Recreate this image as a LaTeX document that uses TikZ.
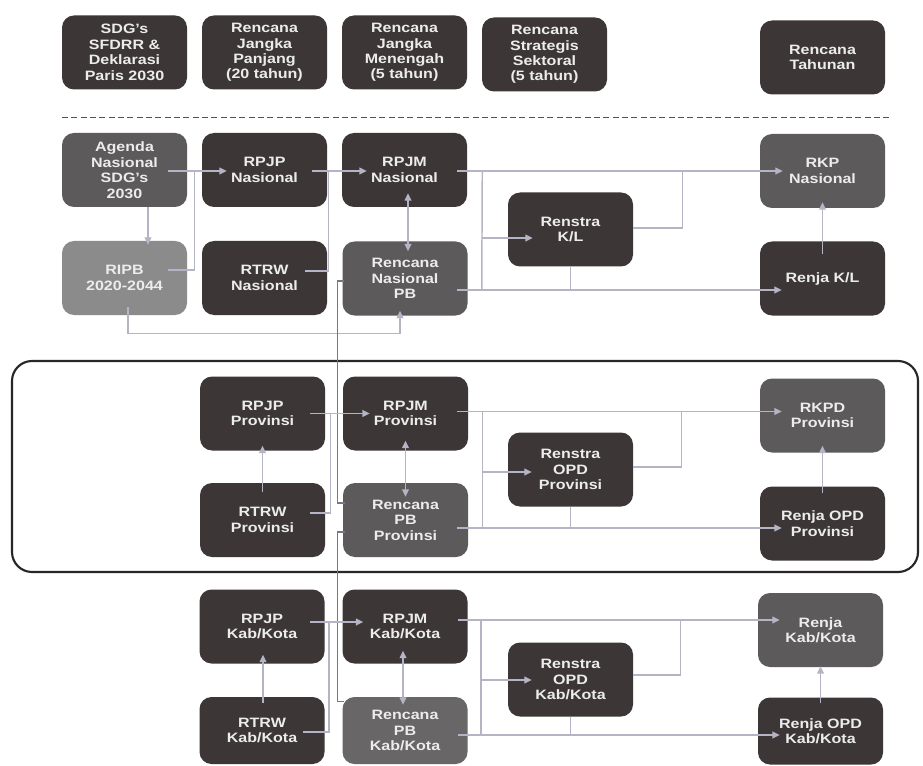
\documentclass[tikz,border=0pt]{standalone}
\usepackage{fontspec}
\setmainfont[FakeStretch=1.18]{Liberation Sans}
\usetikzlibrary{calc,arrows.meta}
\definecolor{boxdark}{RGB}{60,54,55}
\definecolor{boxmid}{RGB}{92,90,91}
\definecolor{boxlight}{RGB}{140,139,140}
\definecolor{boxpb}{RGB}{104,102,103}
\definecolor{txt}{RGB}{236,236,236}
\definecolor{conn}{RGB}{180,180,196}
\definecolor{longconn}{RGB}{120,118,132}
\definecolor{frame}{RGB}{40,38,38}
\begin{document}
\begin{tikzpicture}[x=0.75pt,y=-0.75pt,
  box/.style={rounded corners=9pt, minimum width=93.75pt, minimum height=55.5pt,
    inner sep=0pt, align=center, text=txt,
    font=\bfseries\fontsize{10.2}{11.6}\selectfont},
  dk/.style={box, fill=boxdark},
  md/.style={box, fill=boxmid},
  lt/.style={box, fill=boxlight},
  pbk/.style={box, fill=boxpb},
  shortbox/.style={minimum height=50.25pt},
  ln/.style={draw=conn, line width=1.1pt},
  longln/.style={draw=longconn, line width=0.9pt},
  arr/.style={ln, -{Triangle[length=5.5pt,width=5pt]}},
  dbl/.style={ln, {Triangle[length=5.5pt,width=5pt]}-{Triangle[length=5.5pt,width=5pt]}},
  region/.style={draw=frame, line width=1.6pt, rounded corners=15pt},
  sep/.style={draw=frame!80, line width=0.9pt, dash pattern=on 4.5pt off 2.5pt}
]
\fill[white] (0,0) rectangle (923,766);
\useasboundingbox (0,0) rectangle (923,766);

% header row
\node[dk] (h1) at (124.5,52.5) {SDG's\\SFDRR \&\\Deklarasi\\Paris 2030};
\node[dk] (h2) at (264.5,52.5) {Rencana\\Jangka\\Panjang\\(20 tahun)};
\node[dk] (h3) at (404.5,52.5) {Rencana\\Jangka\\Menengah\\(5 tahun)};
\node[dk] (h4) at (544.5,54.5) {Rencana\\Strategis\\Sektoral\\(5 tahun)};
\node[dk] (h5) at (822.5,57.5) {Rencana\\Tahunan};
\draw[sep] (62,117.5) -- (890,117.5);

% national
\node[md] (agenda) at (124.5,170) {Agenda\\Nasional\\SDG's\\2030};
\node[dk] (rpjpN) at (264.5,170) {RPJP\\Nasional};
\node[dk] (rpjmN) at (404.5,170) {RPJM\\Nasional};
\node[md] (rkpN) at (822.5,171) {RKP\\Nasional};
\node[lt] (ripb) at (124.5,278) {RIPB\\2020-2044};
\node[dk] (rtrwN) at (264.5,278) {RTRW\\Nasional};
\node[md] (pbN) at (405,278.5) {Rencana\\Nasional\\PB};
\node[dk] (renstraN) at (570.5,229.5) {Renstra\\K/L};
\node[dk] (renjaN) at (822.5,278.5) {Renja K/L};

% province
\node[dk] (rpjpP) at (262.5,413.5) {RPJP\\Provinsi};
\node[dk] (rpjmP) at (405.5,413.5) {RPJM\\Provinsi};
\node[md] (rkpdP) at (822.5,415.5) {RKPD\\Provinsi};
\node[dk] (rtrwP) at (262.5,520) {RTRW\\Provinsi};
\node[md] (pbP) at (405.5,520) {Rencana\\PB\\Provinsi};
\node[dk] (renstraP) at (570.5,469.5) {Renstra\\OPD\\Provinsi};
\node[dk] (renjaP) at (822.5,523.5) {Renja OPD\\Provinsi};

% kab/kota
\node[dk] (rpjpK) at (262,626.5) {RPJP\\Kab/Kota};
\node[dk] (rpjmK) at (405,626.5) {RPJM\\Kab/Kota};
\node[md] (renjaKab) at (820.5,630) {Renja\\Kab/Kota};
\node[dk,shortbox] (rtrwK) at (262,730.5) {RTRW\\Kab/Kota};
\node[pbk,shortbox] (pbK) at (405,730.5) {Rencana\\PB\\Kab/Kota};
\node[dk] (renstraK) at (570.5,679.5) {Renstra\\OPD\\Kab/Kota};
\node[dk,shortbox] (renjaK) at (820.5,731) {Renja OPD\\Kab/Kota};

% region frame
\draw[region] (12,361) rectangle (918,572);

% national connectors
\draw[arr] ($(agenda.east)+(-19,1)$) -- ($(rpjpN.west)+(25,1)$);
\draw[ln] ($(ripb.east)+(-19,-8)$) -| ($(agenda.east)+(7,1)$);
\draw[arr] ($(agenda.south)+(23.5,0)$) -- ($(ripb.north)+(23.5,4)$);
\draw[arr] ($(rpjpN.east)+(-15,1)$) -- ($(rpjmN.west)+(25,1)$);
\draw[ln] ($(rtrwN.east)+(-22,-7)$) -| ($(rpjpN.east)+(1,1)$);
\draw[dbl] ($(rpjmN.south)+(3.5,-14)$) -- ($(pbN.north)+(3,10)$);
\draw[arr] ($(ripb.south)+(3.5,-8)$) -- ($(ripb.south)+(3.5,18)$) -| ($(pbN.south)+(-5,-5)$);
\draw[arr] ($(rpjmN.east)+(-10,1)$) -- ($(rkpN.west)+(23,0)$);
\draw[ln] ($(rpjmN.east)+(15,1)$) -- ($(pbN.east)+(14,11.5)$);
\draw[arr] ($(pbN.east)+(-11,11.5)$) -- ($(renjaN.west)+(22,11.5)$);
\draw[arr] ($(renstraN.west)+(-26,8.5)$) -- ($(renstraN.west)+(25,8.5)$);
\draw[ln] ($(renstraN.east)+(0,-1.5)$) -| ($(rkpN.west)+(-77,0)$);
\draw[ln] (renstraN.south) -- ($(renstraN.south)+(0,22.75)$);
\draw[arr] ($(renjaN.north)+(0,13)$) -- ($(rkpN.south)+(0,-6)$);

% long vertical links between levels
\draw[longln] ($(pbN.west)+(2,2.5)$) -- ($(pbN.west)+(-4.5,2.5)$) |- ($(pbP.west)+(2,-17)$);
\draw[longln] ($(pbP.west)+(2,12)$) -- ($(pbP.west)+(-5,12)$) |- ($(pbK.north west)+(2,5)$);

% province connectors
\draw[arr] ($(rpjpP.east)+(-15,0)$) -- ($(rpjmP.west)+(27,0)$);
\draw[arr] ($(rtrwP.north)+(0,9)$) -- ($(rpjpP.south)+(0,-5)$);
\draw[ln] ($(rtrwP.east)+(-15,-7)$) -| ($(rpjpP.east)+(5,0)$);
\draw[dbl] ($(rpjmP.south)+(0,-10)$) -- ($(pbP.north)+(0,14)$);
\draw[arr] ($(rpjmP.east)+(-11,-2)$) -- ($(rkpdP.west)+(22,-4)$);
\draw[ln] ($(rpjmP.east)+(14,-2)$) -- ($(pbP.east)+(14,8)$);
\draw[arr] ($(pbP.east)+(-11,8)$) -- ($(renjaP.west)+(22,4.5)$);
\draw[arr] ($(renstraP.west)+(-26,2.5)$) -- ($(renstraP.west)+(24,2.5)$);
\draw[ln] ($(renstraP.east)+(0,-2.5)$) -| ($(rkpdP.west)+(-78,-4)$);
\draw[ln] (renstraP.south) -- ($(renstraP.south)+(0,21.5)$);
\draw[arr] ($(renjaP.north)+(0,7)$) -- ($(rkpdP.south)+(0,-7)$);

% kab/kota connectors
\draw[arr] ($(rpjpK.east)+(-15,-4.5)$) -- ($(rpjmK.west)+(21,-4.5)$);
\draw[arr] ($(rtrwK.north)+(1,6)$) -- ($(rpjpK.south)+(1,-9)$);
\draw[ln] ($(rtrwK.east)+(-22,1.5)$) -| ($(rpjpK.east)+(4,-4.5)$);
\draw[dbl] ($(rpjmK.south)+(-2,-13)$) -- ($(pbK.north)+(-2,8)$);
\draw[arr] ($(rpjmK.east)+(-10,-6.5)$) -- ($(renjaKab.west)+(22,-10)$);
\draw[ln] ($(rpjmK.east)+(13,-6.5)$) -- ($(pbK.east)+(13,4.5)$);
\draw[arr] ($(pbK.east)+(-10,4.5)$) -- ($(renjaK.west)+(22,4)$);
\draw[arr] ($(renstraK.west)+(-27.5,0.5)$) -- ($(renstraK.west)+(24,0.5)$);
\draw[ln] ($(renstraK.east)+(0,-4.5)$) -| ($(renjaKab.west)+(-77,-10)$);
\draw[ln] (renstraK.south) -- ($(renstraK.south)+(0,18.5)$);
\draw[arr] ($(renjaK.north)+(0,6)$) -- ($(renjaKab.south)+(0,-1)$);
\end{tikzpicture}
\end{document}
